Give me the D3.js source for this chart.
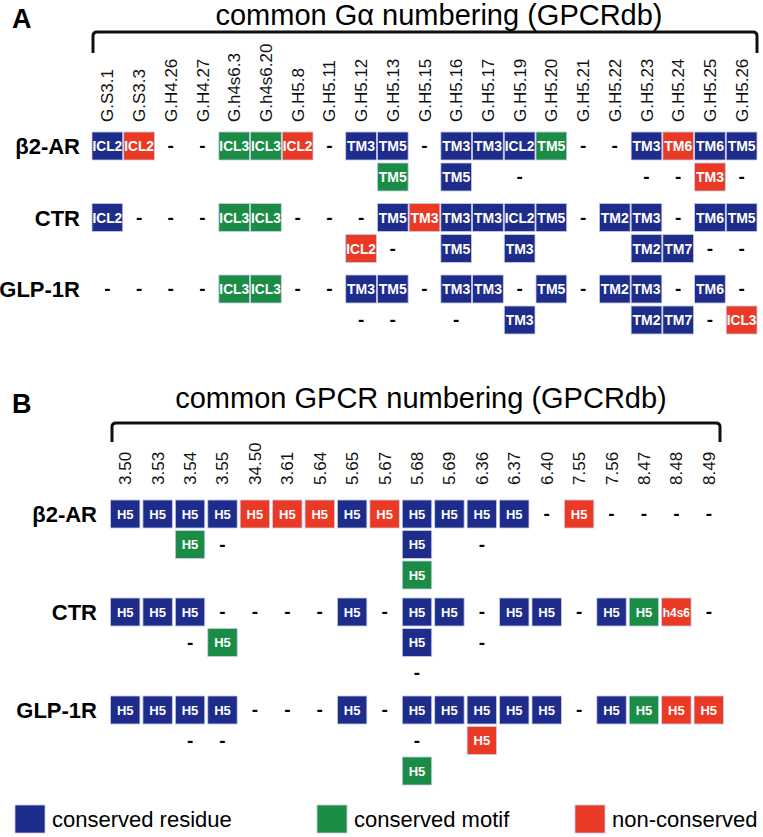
<!DOCTYPE html>
<html>
<head>
<meta charset="utf-8">
<script src="https://cdn.jsdelivr.net/npm/d3@7"></script>
<style>
  html, body { margin: 0; padding: 0; background: #fff; }
  svg { display: block; font-family: "Liberation Sans", Arial, sans-serif; }
</style>
</head>
<body>
<svg id="chart" width="763" height="837"></svg>
<script>
// ---------------- DATA ----------------
const receptors = ["β2-AR", "CTR", "GLP-1R"];

const colsA = ["G.S3.1","G.S3.3","G.H4.26","G.H4.27","G.h4s6.3","G.h4s6.20","G.H5.8","G.H5.11",
  "G.H5.12","G.H5.13","G.H5.15","G.H5.16","G.H5.17","G.H5.19","G.H5.20","G.H5.21","G.H5.22",
  "G.H5.23","G.H5.24","G.H5.25","G.H5.26"];

// entries: "LABEL:class" (c = conserved residue, m = conserved motif, n = non-conserved), "-" = none, "" = empty
const a_b2ar_0 = ["ICL2:c","ICL2:n","-","-","ICL3:m","ICL3:m","ICL2:n","-","TM3:c","TM5:c","-","TM3:c","TM3:c","ICL2:c","TM5:m","-","-","TM3:c","TM6:n","TM6:c","TM5:c"];
const a_b2ar_1 = ["","","","","","","","","","TM5:m","","TM5:c","","-","","","","-","-","TM3:n","-"];
const a_ctr_0  = ["ICL2:c","-","-","-","ICL3:m","ICL3:m","-","-","-","TM5:c","TM3:n","TM3:c","TM3:c","ICL2:c","TM5:c","-","TM2:c","TM3:c","-","TM6:c","TM5:c"];
const a_ctr_1  = ["","","","","","","","","ICL2:n","-","","TM5:c","","TM3:c","","","","TM2:c","TM7:c","-","-"];
const a_glp_0  = ["-","-","-","-","ICL3:m","ICL3:m","-","-","TM3:c","TM5:c","-","TM3:c","TM3:c","-","TM5:c","-","TM2:c","TM3:c","-","TM6:c","-"];
const a_glp_1  = ["","","","","","","","","-","-","","-","","TM3:c","","","","TM2:c","TM7:c","-","ICL3:n"];

const colsB = ["3.50","3.53","3.54","3.55","34.50","3.61","5.64","5.65","5.67","5.68","5.69",
  "6.36","6.37","6.40","7.55","7.56","8.47","8.48","8.49"];

const b_b2ar_0 = ["H5:c","H5:c","H5:c","H5:c","H5:n","H5:n","H5:n","H5:c","H5:n","H5:c","H5:c","H5:c","H5:c","-","H5:n","-","-","-","-"];
const b_b2ar_1 = ["","","H5:m","-","","","","","","H5:c","","-","","","","","","",""];
const b_b2ar_2 = ["","","","","","","","","","H5:m","","","","","","","","",""];
const b_ctr_0  = ["H5:c","H5:c","H5:c","-","-","-","-","H5:c","-","H5:c","H5:c","-","H5:c","H5:c","-","H5:c","H5:m","h4s6:n","-"];
const b_ctr_1  = ["","","-","H5:m","","","","","","H5:c","","-","","","","","","",""];
const b_ctr_2  = ["","","","","","","","","","-","","","","","","","","",""];
const b_glp_0  = ["H5:c","H5:c","H5:c","H5:c","-","-","-","H5:c","-","H5:c","H5:c","H5:c","H5:c","H5:c","-","H5:c","H5:m","H5:n","H5:n"];
const b_glp_1  = ["","","-","-","","","","","","-","","H5:n","","","","","","",""];
const b_glp_2  = ["","","","","","","","","","H5:m","","","","","","","","",""];

const classes = ["c", "m", "n"];
const classNames = ["conserved residue", "conserved motif", "non-conserved"];

const titleA = "common Gα numbering (GPCRdb)";
const titleB = "common GPCR numbering (GPCRdb)";

// ---------------- STYLE ----------------
const color = d3.scaleOrdinal().domain(classes).range(["#1e2d8c", "#1b8c45", "#ea3a26"]);

const svg = d3.select("#chart");

function panel(opts) {
  const g = svg.append("g");
  const x = d3.scaleBand().domain(opts.cols).range(opts.xRange).paddingInner(0).paddingOuter(0);
  const y = d3.scalePoint().domain(opts.receptors).range(opts.yRange);
  const boxW = x.bandwidth() - opts.gap;

  // panel letter
  g.append("text").attr("x", 12).attr("y", opts.letterY)
    .attr("font-size", 27).attr("font-weight", "bold").text(opts.letter);

  // title
  g.append("text").attr("x", opts.titleX).attr("y", opts.titleY)
    .attr("text-anchor", "middle").attr("font-size", 29).text(opts.title);

  // bracket
  const bx0 = opts.bracket[0], bx1 = opts.bracket[1], by0 = opts.bracket[2], by1 = opts.bracket[3];
  const p = d3.path();
  p.moveTo(bx0, by1); p.lineTo(bx0, by0 + 4);
  p.quadraticCurveTo(bx0, by0, bx0 + 4, by0);
  p.lineTo(bx1 - 4, by0);
  p.quadraticCurveTo(bx1, by0, bx1, by0 + 4);
  p.lineTo(bx1, by1);
  g.append("path").attr("d", p.toString()).attr("fill", "none")
    .attr("stroke", "#111").attr("stroke-width", 3);

  // column labels
  g.selectAll("text.col").data(opts.cols).join("text").attr("class", "col")
    .attr("transform", d => `translate(${x(d) + x.bandwidth() / 2 + 6},${opts.colLabelY}) rotate(-90)`)
    .attr("font-size", 17).attr("fill", "#111").attr("text-anchor", "start").text(d => d);

  // row labels
  g.selectAll("text.row").data(opts.receptors).join("text").attr("class", "row")
    .attr("x", opts.rowLabelX).attr("y", d => y(d) + 8)
    .attr("text-anchor", "end").attr("font-size", 22).attr("font-weight", "bold").text(d => d);

  // cells
  const cells = [];
  opts.rows.forEach((levels, ri) => {
    levels.forEach((arr, li) => {
      arr.forEach((v, ci) => {
        if (v === "") return;
        const parts = v.split(":");
        cells.push({ rec: opts.receptors[ri], lvl: li, col: opts.cols[ci], label: parts[0], cls: parts[1] || null });
      });
    });
  });
  const cy = d => y(d.rec) + d.lvl * opts.subStep;

  const boxes = cells.filter(d => d.cls);
  const bg = g.selectAll("g.cell").data(boxes).join("g").attr("class", "cell");
  bg.append("rect")
    .attr("x", d => x(d.col) + (x.bandwidth() - boxW) / 2)
    .attr("y", d => cy(d) - opts.boxH / 2)
    .attr("width", boxW).attr("height", opts.boxH)
    .attr("fill", d => color(d.cls))
    .attr("stroke", "#c9cbe6").attr("stroke-width", 0.8);
  bg.append("text")
    .attr("x", d => x(d.col) + x.bandwidth() / 2)
    .attr("y", d => cy(d) + opts.boxFont * 0.36)
    .attr("text-anchor", "middle").attr("fill", "#fff").attr("font-weight", "bold")
    .attr("font-size", d => d.label.length > 3 ? opts.boxFont * opts.longScale : opts.boxFont)
    .text(d => d.label);

  const dashes = cells.filter(d => !d.cls);
  g.selectAll("text.dash").data(dashes).join("text").attr("class", "dash")
    .attr("x", d => x(d.col) + x.bandwidth() / 2)
    .attr("y", d => cy(d) + 6)
    .attr("text-anchor", "middle").attr("font-size", 19).attr("font-weight", "bold")
    .text("-");
}

panel({
  letter: "A", letterY: 28,
  title: titleA, titleX: 439, titleY: 25,
  bracket: [93, 757, 32, 53],
  cols: colsA, xRange: [91.5, 757.5], gap: 1,
  receptors: receptors, yRange: [146, 289],
  subStep: 31, boxH: 28, boxFont: 14, longScale: 0.98,
  colLabelY: 122, rowLabelX: 80,
  rows: [[a_b2ar_0, a_b2ar_1], [a_ctr_0, a_ctr_1], [a_glp_0, a_glp_1]]
});

panel({
  letter: "B", letterY: 413,
  title: titleB, titleX: 421, titleY: 408,
  bracket: [112, 720, 423, 442],
  cols: colsB, xRange: [109, 725], gap: 3,
  receptors: receptors, yRange: [514, 710],
  subStep: 30.5, boxH: 28, boxFont: 13, longScale: 0.92,
  colLabelY: 485, rowLabelX: 97,
  rows: [[b_b2ar_0, b_b2ar_1, b_b2ar_2], [b_ctr_0, b_ctr_1, b_ctr_2], [b_glp_0, b_glp_1, b_glp_2]]
});

// legend
const legendX = { c: 15, m: 317, n: 575 };
const lg = svg.append("g").selectAll("g").data(classes).join("g")
  .attr("transform", d => `translate(${legendX[d]},805)`);
lg.append("rect").attr("width", 30).attr("height", 28).attr("fill", d => color(d))
  .attr("stroke", "#c9cbe6").attr("stroke-width", 0.8);
lg.append("text").attr("x", 37).attr("y", 22).attr("font-size", 22)
  .text((d, i) => classNames[i]);
</script>
</body>
</html>
